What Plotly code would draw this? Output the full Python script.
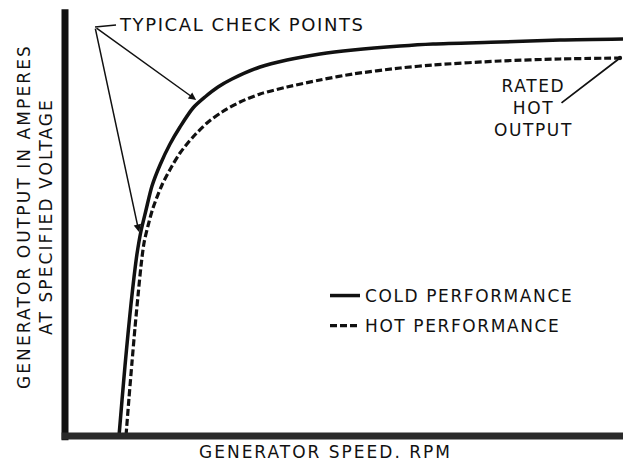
import plotly.graph_objects as go

# Generator speed (axis units 0-100) and generator output (axis units 0-100)
cold_speed = [9.68, 10.22, 10.75, 11.29, 11.83, 12.37, 12.90, 13.62, 14.52, 15.59, 17.03,
              18.82, 20.61, 22.94, 25.09, 27.42, 29.93, 34.95, 39.78, 45.70, 51.61,
              60.04, 65.95, 77.96, 88.71, 100.0]
cold_output = [0.0, 8.45, 16.43, 23.94, 30.99, 37.32, 42.72, 48.12, 53.05, 58.69, 63.62,
               68.54, 72.54, 77.00, 79.58, 81.92, 83.80, 86.62, 88.26, 89.67, 90.61,
               91.55, 92.02, 92.49, 92.96, 93.19]

hot_speed = [10.93, 11.47, 12.01, 12.54, 13.08, 13.62, 14.16, 14.87, 15.77, 17.38, 19.18,
             20.61, 22.94, 25.45, 28.14, 31.36, 34.95, 39.78, 45.70, 51.61, 60.04,
             65.95, 77.96, 88.71, 99.46]
hot_output = [0.0, 8.92, 17.37, 25.35, 32.86, 39.91, 45.31, 49.30, 53.52, 58.92, 63.38,
              66.43, 70.19, 73.47, 76.06, 78.40, 80.28, 81.92, 83.57, 84.98, 86.38,
              87.09, 88.03, 88.50, 88.73]

check_speed = [23.5, 13.26]
check_output = [78.9, 47.9]
check_label_speed, check_label_output = 5.38, 96.0
rated_speed, rated_output = 99.46, 88.73
rated_label_speed, rated_label_output = 88.71, 77.93

FONT = "DejaVu Sans"
INK = "#111111"


def sp(t, ls=1.6):
    return f'<span style="letter-spacing:{ls}px">{t}</span>'


fig = go.Figure()
fig.add_trace(go.Scatter(x=cold_speed, y=cold_output, mode="lines", name=sp("COLD PERFORMANCE"),
                         legendgroup="cold",
                         line=dict(color=INK, width=3.5, shape="spline", smoothing=0.8)))
fig.add_trace(go.Scatter(x=hot_speed, y=hot_output, mode="lines", name=sp("HOT PERFORMANCE"),
                         legendgroup="hot",
                         line=dict(color=INK, width=3.2, dash="7px,3px", shape="spline", smoothing=0.8)))

annotations = []
for cx, cy in zip(check_speed, check_output):
    annotations.append(dict(x=cx, y=cy, xref="x", yref="y",
                            ax=check_label_speed, ay=check_label_output,
                            axref="x", ayref="y", text="", showarrow=True,
                            arrowhead=2, arrowsize=1.0, arrowwidth=1.5, arrowcolor=INK))
annotations.append(dict(x=(117 - 65) / 558, y=(436 - 25) / 426, xref="paper", yref="paper",
                        text=sp("TYPICAL CHECK POINTS"), showarrow=False, xanchor="left",
                        yanchor="middle", font=dict(family=FONT, size=18, color=INK)))
annotations.append(dict(x=rated_speed, y=rated_output, xref="x", yref="y",
                        ax=rated_label_speed, ay=rated_label_output,
                        axref="x", ayref="y", text="", showarrow=True,
                        arrowhead=6, arrowsize=0.6, arrowwidth=1.8, arrowcolor=INK))
annotations.append(dict(x=(533 - 65) / 558, y=(436 - 108) / 426, xref="paper", yref="paper",
                        text="<br>".join(sp(t) for t in ["RATED", "HOT", "OUTPUT"]),
                        showarrow=False, xanchor="center", yanchor="middle", align="center",
                        font=dict(family=FONT, size=17, color=INK)))
annotations.append(dict(x=(325 - 65) / 558, y=(436 - 452) / 426, xref="paper", yref="paper",
                        text=sp("GENERATOR SPEED. RPM", 2.0), showarrow=False, xanchor="center",
                        yanchor="middle", font=dict(family=FONT, size=17, color=INK)))
annotations.append(dict(x=(35 - 65) / 558, y=(436 - 217) / 426, xref="paper", yref="paper",
                        text=sp("GENERATOR OUTPUT IN AMPERES", 2.1) + "<br>" + sp("AT SPECIFIED VOLTAGE", 2.1),
                        showarrow=False, textangle=-90, xanchor="center", yanchor="middle",
                        align="center", font=dict(family=FONT, size=17, color=INK)))

shapes = [
    dict(type="line", xref="paper", yref="paper", x0=0, x1=0, y0=-0.01, y1=1.002,
         line=dict(color=INK, width=7)),
    dict(type="line", xref="paper", yref="paper", x0=-0.006, x1=1.0, y0=0, y1=0,
         line=dict(color="#2a2a2a", width=7)),
    dict(type="line", xref="paper", yref="paper", x0=(95 - 65) / 558, x1=(116 - 65) / 558,
         y0=(436 - 27) / 426, y1=(436 - 25) / 426, line=dict(color=INK, width=1.5)),
]

fig.update_layout(
    width=623, height=464,
    margin=dict(l=65, r=0, t=10, b=28),
    paper_bgcolor="white", plot_bgcolor="white",
    xaxis=dict(range=[0, 100], visible=False),
    yaxis=dict(range=[0, 100], visible=False),
    showlegend=True,
    legend=dict(x=(325 - 65) / 558, y=(436 - 278) / 426, xanchor="left", yanchor="top",
                font=dict(family=FONT, size=17, color=INK), itemwidth=30,
                tracegroupgap=5, bgcolor="rgba(0,0,0,0)"),
    annotations=annotations,
    shapes=shapes,
)

fig.write_html("out.html", config={"displayModeBar": False},
               post_script="document.body.style.margin='0';")
